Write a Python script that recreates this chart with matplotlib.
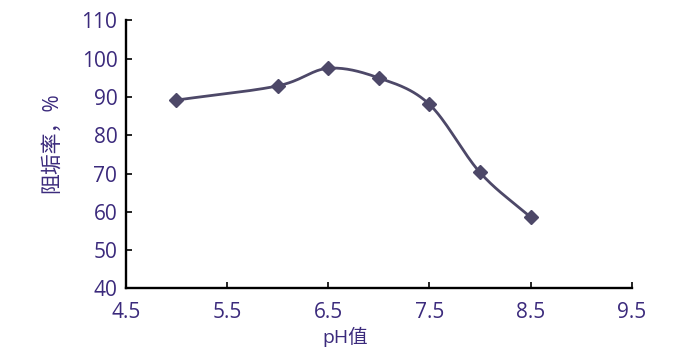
import numpy as np
import matplotlib
matplotlib.use("Agg")
import matplotlib.pyplot as plt

plt.rcParams['font.family'] = ['Open Sans', 'Noto Sans CJK SC', 'DejaVu Sans']

ph = [5.0, 6.0, 6.5, 7.0, 7.5, 8.0, 8.5]
rate = [89.2, 92.9, 97.5, 95.0, 88.1, 70.3, 58.6]
xticks = [4.5, 5.5, 6.5, 7.5, 8.5, 9.5]
yticks = [40, 50, 60, 70, 80, 90, 100, 110]

text_c = '#3b2a7c'
line_c = '#4d4868'

def catmull_rom(x, y, n=30):
    x = np.asarray(x, float); y = np.asarray(y, float)
    px = np.concatenate([[2*x[0]-x[1]], x, [2*x[-1]-x[-2]]])
    py = np.concatenate([[2*y[0]-y[1]], y, [2*y[-1]-y[-2]]])
    xs, ys = [], []
    t = np.linspace(0, 1, n)
    for i in range(1, len(px)-2):
        for arr, out in ((px, xs), (py, ys)):
            p0, p1, p2, p3 = arr[i-1], arr[i], arr[i+1], arr[i+2]
            out.extend(0.5*((2*p1) + (-p0+p2)*t + (2*p0-5*p1+4*p2-p3)*t**2 + (-p0+3*p1-3*p2+p3)*t**3))
    return np.array(xs), np.array(ys)

fig = plt.figure(figsize=(6.88, 3.47), dpi=100)
ax = fig.add_axes([0.1827, 0.169, 0.7355, 0.772])
sx, sy = catmull_rom(ph, rate)
ax.plot(sx, sy, color=line_c, lw=2.0, zorder=2, clip_on=False)
ax.plot(ph, rate, linestyle='none', marker='D', ms=7, color=line_c, zorder=3, clip_on=False)

ax.set_xlim(4.5, 9.5)
ax.set_ylim(40, 110)
ax.set_xticks(xticks)
ax.set_yticks(yticks)
ax.set_xticklabels([f'{v:.1f}' for v in xticks])
ax.set_yticklabels([str(v) for v in yticks])
for s in ['top', 'right']:
    ax.spines[s].set_visible(False)
for s in ['left', 'bottom']:
    ax.spines[s].set_linewidth(1.7)
    ax.spines[s].set_color('black')
ax.tick_params(direction='in', length=4, width=1.2, colors='black', labelcolor=text_c, labelsize=15)
ax.tick_params(axis='x', pad=10)
ax.tick_params(axis='y', pad=6)
ax.set_xlabel('pH值', color=text_c, fontsize=14)
ax.xaxis.set_label_coords(0.4334, -0.142)
ax.set_ylabel('阻垢率，%', color=text_c, fontsize=15)
ax.yaxis.set_label_coords(-0.1265, 0.544)
fig.savefig('out.png', dpi=100)
